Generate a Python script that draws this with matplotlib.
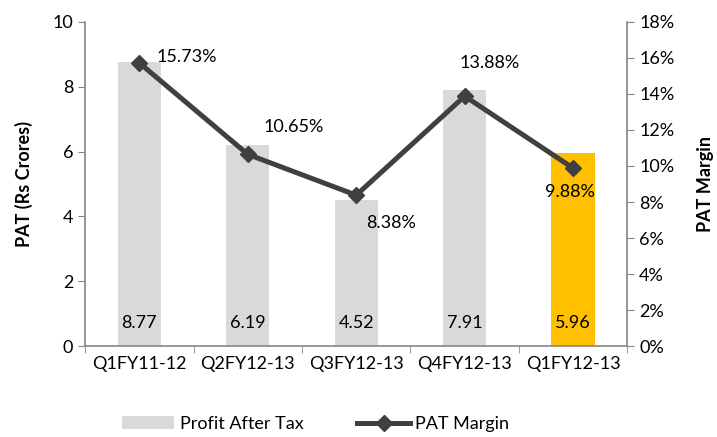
import matplotlib
matplotlib.use("Agg")
import matplotlib.pyplot as plt
import numpy as np
from matplotlib.ticker import FuncFormatter, FixedLocator

plt.rcParams['font.family'] = ['Lato', 'DejaVu Sans']

# data
quarters = ["Q1FY11-12", "Q2FY12-13", "Q3FY12-13", "Q4FY12-13", "Q1FY12-13"]
pat = [8.77, 6.19, 4.52, 7.91, 5.96]
pat_margin = [15.73, 10.65, 8.38, 13.88, 9.88]
bar_colors = ["#D9D9D9", "#D9D9D9", "#D9D9D9", "#D9D9D9", "#FFC000"]
# label offsets (points) for margin labels
margin_offsets = [(34, 4), (33, 20), (25, -20), (18, 24), (-2, -17)]

axis_col = "#868686"
line_col = "#404040"
fs = 13

fig = plt.figure(figsize=(7.17, 4.37), dpi=100)
ax = fig.add_axes([0.1186, 0.2082, 0.875 - 0.1186, 0.9497 - 0.2082])
x = np.arange(len(quarters))

bars = ax.bar(x, pat, width=0.4, color=bar_colors, zorder=1)
ax.set_xlim(-0.5, len(quarters) - 0.5)
ax.set_ylim(0, 10)
ax.set_yticks([0, 2, 4, 6, 8, 10])
ax.set_xticks(x)
ax.set_xticklabels(quarters)
ax.xaxis.set_minor_locator(FixedLocator(np.arange(-0.5, len(quarters), 1.0)))
ax.tick_params(axis='x', which='major', length=0, labelsize=fs, pad=7)
ax.tick_params(axis='x', which='minor', length=5, color=axis_col)
ax.tick_params(axis='y', length=5, color=axis_col, labelsize=fs)
ax.set_ylabel("PAT (Rs Crores)", fontsize=fs, fontweight='bold', labelpad=14)

for xi, v in zip(x, pat):
    ax.text(xi, 0.72, f"{v:.2f}", ha='center', va='center', fontsize=fs)

for s in ['top', 'right']:
    ax.spines[s].set_visible(False)
for s in ['left', 'bottom']:
    ax.spines[s].set_color(axis_col)
    ax.spines[s].set_linewidth(1.2)

ax2 = ax.twinx()
ax2.plot(x, pat_margin, color=line_col, lw=3.6, marker='D', markersize=8, zorder=3)
ax2.set_ylim(0, 18)
ax2.set_yticks(np.arange(0, 19, 2))
ax2.yaxis.set_major_formatter(FuncFormatter(lambda v, p: f"{v:.0f}%"))
ax2.tick_params(axis='y', length=5, color=axis_col, labelsize=fs)
ax2.set_ylabel("PAT Margin", fontsize=fs, fontweight='bold', labelpad=16)
for s in ['top', 'left', 'bottom']:
    ax2.spines[s].set_visible(False)
ax2.spines['right'].set_color(axis_col)
ax2.spines['right'].set_linewidth(1.2)

for xi, m, off in zip(x, pat_margin, margin_offsets):
    ax2.annotate(f"{m:.2f}%", (xi, m), xytext=off, textcoords='offset points',
                 ha='center', va='center', fontsize=fs)

handles = [bars[0], ax2.lines[0]]
fig.legend(handles, ["Profit After Tax", "PAT Margin"], loc='center',
           bbox_to_anchor=(0.44, 0.03), ncol=2, frameon=False, fontsize=fs,
           handlelength=2.9, columnspacing=3.0, handletextpad=0.3)

fig.savefig("out.png", dpi=100)
